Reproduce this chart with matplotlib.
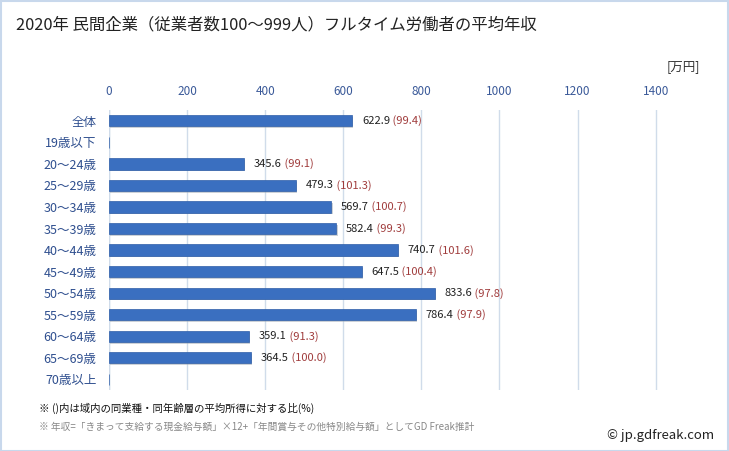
import matplotlib
matplotlib.use("Agg")
import matplotlib.pyplot as plt
import numpy as np
from matplotlib.patches import Rectangle

plt.rcParams['font.family'] = ['Noto Sans CJK JP', 'DejaVu Sans']

categories = ['全体', '19歳以下', '20～24歳', '25～29歳', '30～34歳', '35～39歳', '40～44歳',
              '45～49歳', '50～54歳', '55～59歳', '60～64歳', '65～69歳', '70歳以上']
values = [622.9, None, 345.6, 479.3, 569.7, 582.4, 740.7, 647.5, 833.6, 786.4, 359.1, 364.5, None]
ratios = [99.4, None, 99.1, 101.3, 100.7, 99.3, 101.6, 100.4, 97.8, 97.9, 91.3, 100.0, None]
xticks = [0, 200, 400, 600, 800, 1000, 1200, 1400]

fig = plt.figure(figsize=(7.29, 4.51), dpi=100)
fig.patches.append(Rectangle((0.001, 0.001), 0.998, 0.997, transform=fig.transFigure,
                             fill=False, edgecolor='#c8d8ec', linewidth=1.5))
ax = fig.add_axes([0.1495, 0.135, 0.8035, 0.621])

n = len(categories)
y = np.arange(n)
vals = [v if v is not None else 0 for v in values]
ax.barh(y + 0.08, vals, height=0.52, color='#9aa4b0', alpha=0.5, zorder=2, left=3)
ax.barh(y, vals, height=0.52, color='#3a6fc0', edgecolor='#2e5ea8', linewidth=0.5, zorder=3)

for i, (v, r) in enumerate(zip(values, ratios)):
    if v is None:
        continue
    t = ax.annotate(f'{v:.1f}', (v, i), xytext=(7, 0), textcoords='offset points',
                    va='center', ha='left', fontsize=8, color='#222222')
    ax.annotate(f' ({r:.1f})', (1, 0.5), xycoords=t, va='center', ha='left',
                fontsize=8, color='#a03c3c')

ax.set_xlim(0, 1500)
ax.set_ylim(n - 0.5, -0.5)
ax.set_xticks(xticks)
ax.xaxis.tick_top()
ax.tick_params(axis='x', length=0, labelsize=8.5, labelcolor='#3b5a99', pad=9)
ax.set_yticks(y)
ax.set_yticklabels(categories)
ax.tick_params(axis='y', length=0, labelsize=9, labelcolor='#2f4f8f', pad=9)
ax.grid(axis='x', color='#d0dcea', linewidth=1, zorder=0)
ax.set_axisbelow(True)
for s in ax.spines.values():
    s.set_visible(False)
ax.axvline(0, color='#d0dcea', linewidth=1, zorder=1)

fig.text(0.022, 0.945, '2020年 民間企業（従業者数100～999人）フルタイム労働者の平均年収',
         fontsize=11.8, color='#222222', va='center')
fig.text(0.96, 0.852, '[万円]', fontsize=9, color='#333333', ha='right', va='center')
fig.text(0.053, 0.095, '※ ()内は域内の同業種・同年齢層の平均所得に対する比(%)',
         fontsize=7.5, color='#111111', va='center')
fig.text(0.053, 0.053, '※ 年収=「きまって支給する現金給与額」×12+「年間賞与その他特別給与額」としてGD Freak推計',
         fontsize=7, color='#888888', va='center')
fig.text(0.979, 0.035, '© jp.gdfreak.com', fontsize=9.5, color='#222222', ha='right', va='center')

fig.savefig('out.png', dpi=100)
